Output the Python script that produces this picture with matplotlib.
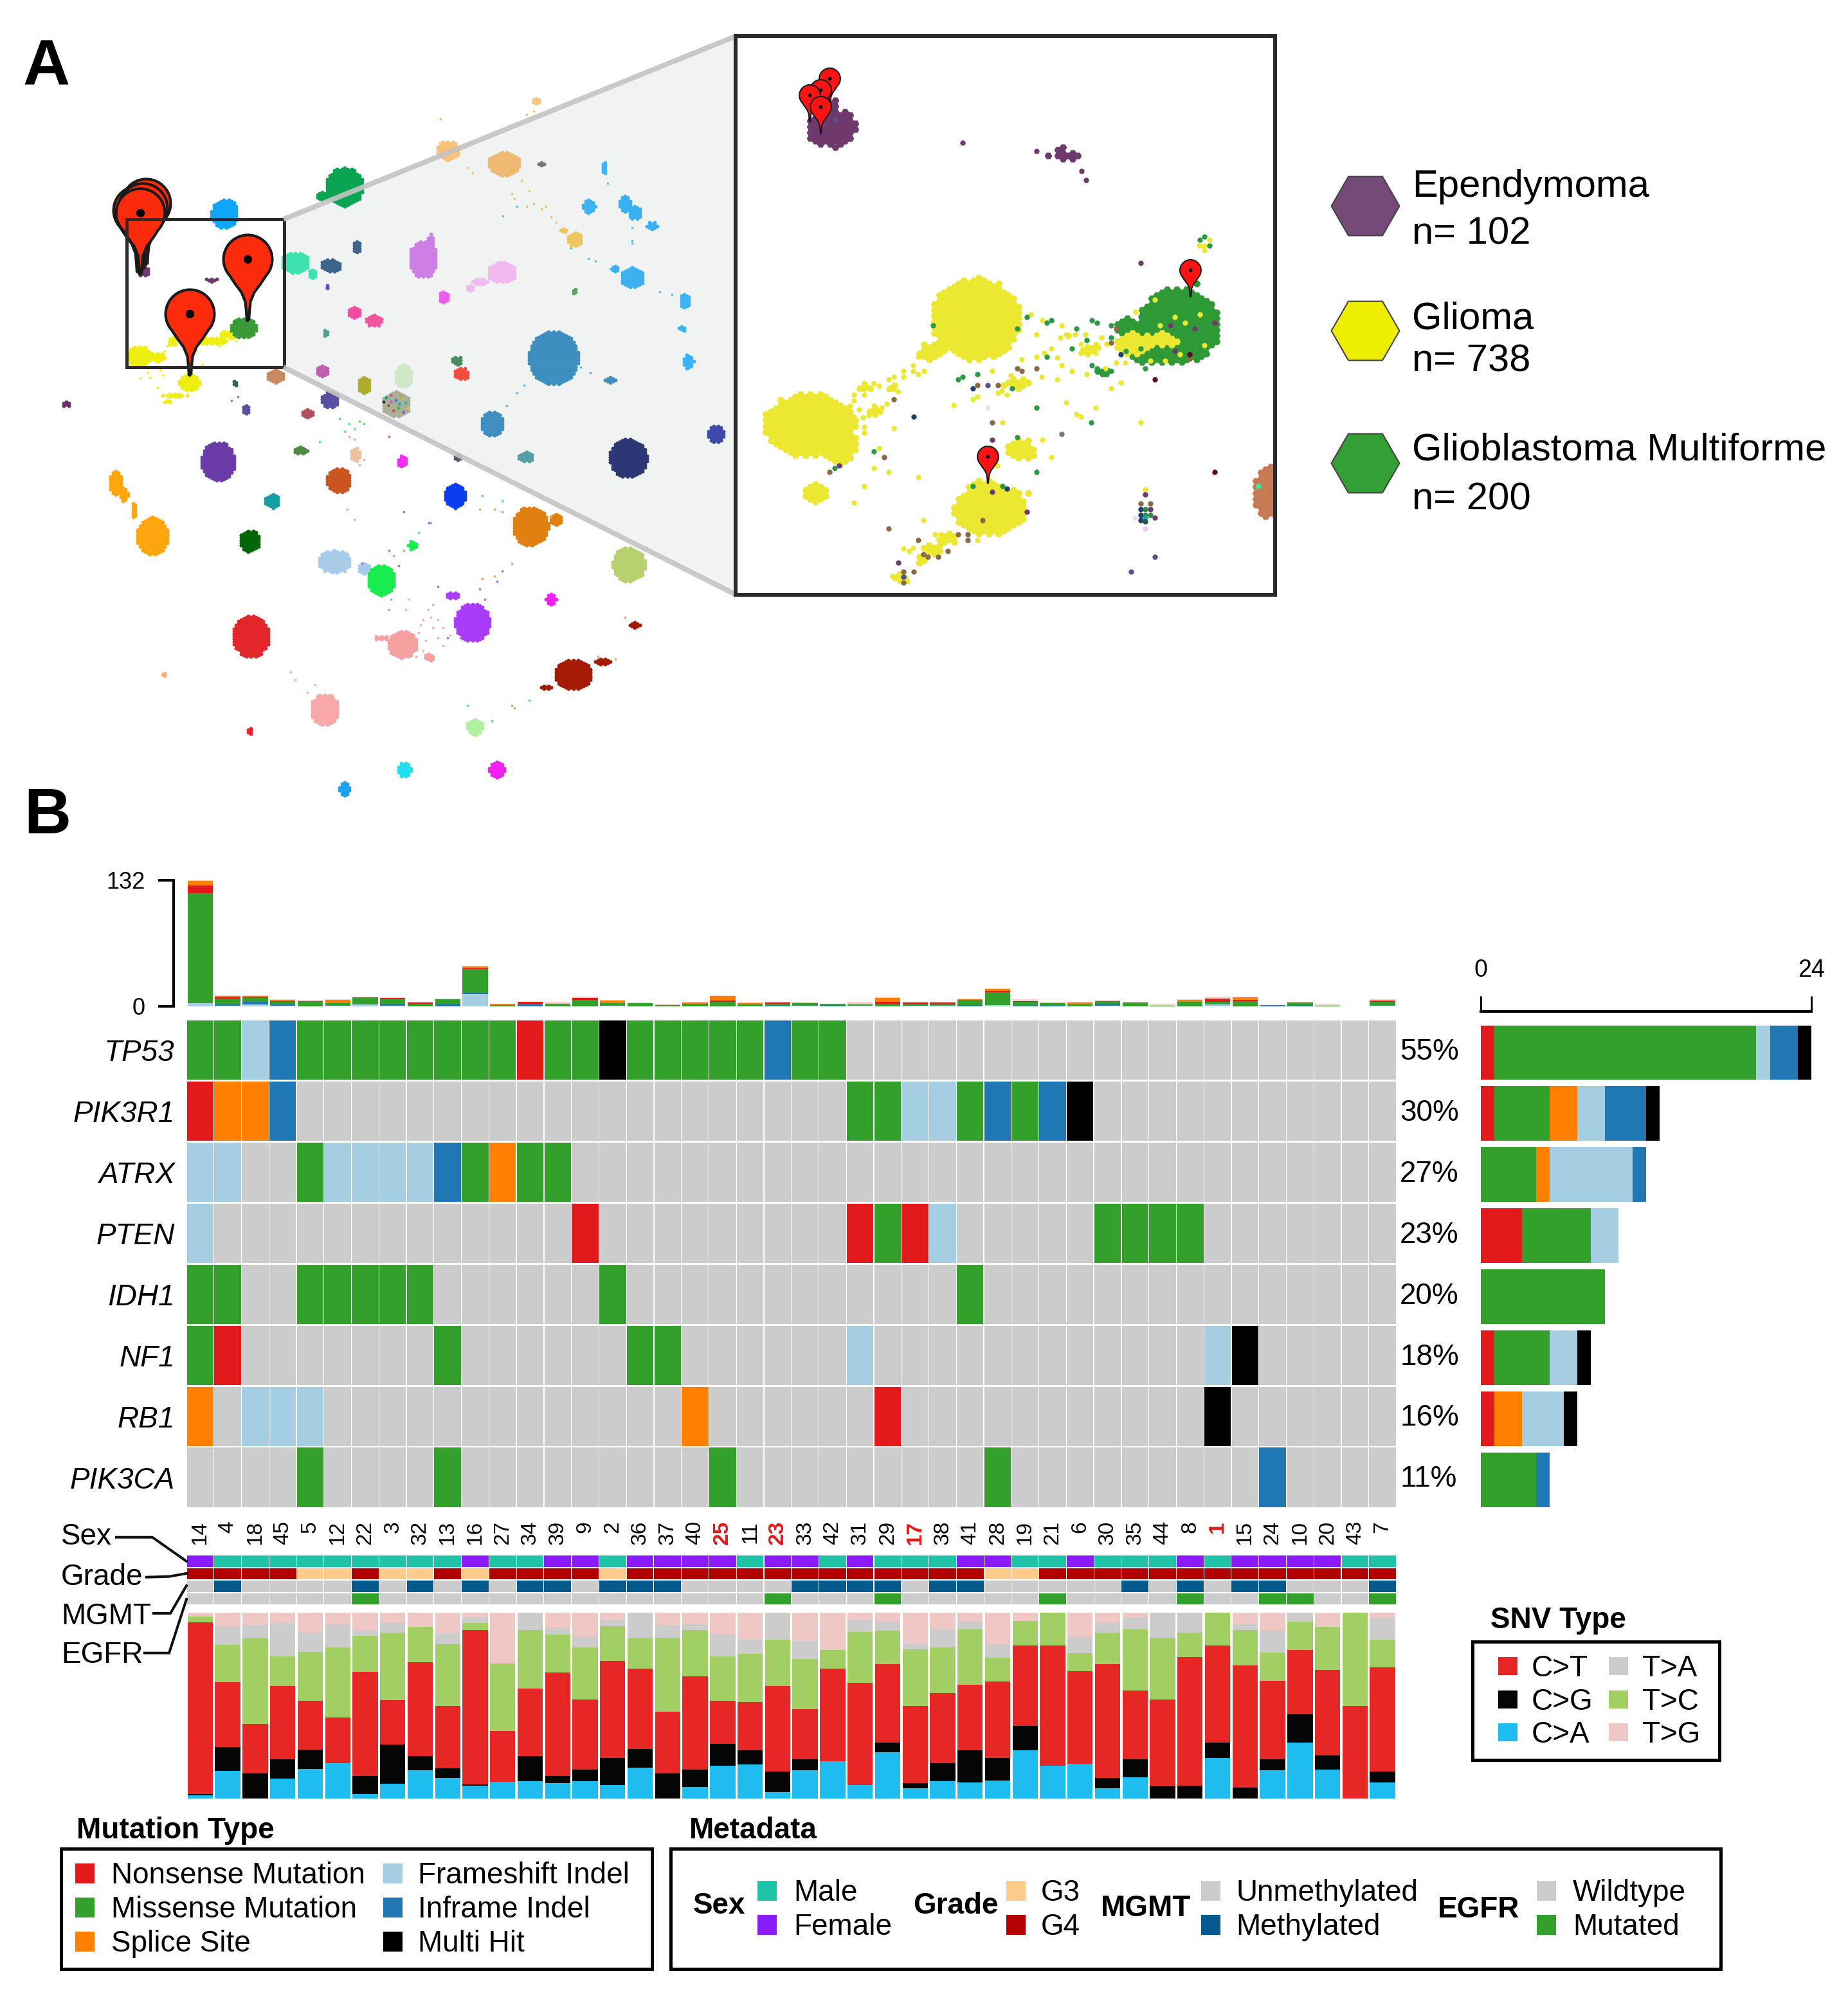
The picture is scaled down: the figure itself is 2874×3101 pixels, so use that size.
import numpy as np
import matplotlib
matplotlib.use('Agg')
import matplotlib.pyplot as plt
from matplotlib.path import Path
from matplotlib.patches import Rectangle, Polygon
from matplotlib.markers import MarkerStyle

plt.rcParams['font.family'] = ['Liberation Sans', 'DejaVu Sans']

W, H, DPI = 2874, 3101, 100
FS = 33

# ---------------- DATA: panel B ----------------
samples = [14,4,18,45,5,12,22,3,32,13,16,27,34,39,9,2,36,37,40,25,11,23,33,42,31,29,17,38,41,28,19,21,6,30,35,44,8,1,15,24,10,20,43,7]
red_samples = [25,23,17,1]
genes = ['TP53','PIK3R1','ATRX','PTEN','IDH1','NF1','RB1','PIK3CA']
pct = ['55%','30%','27%','23%','20%','18%','16%','11%']
TP53   = 'MMFIMMMMMMMMNMMHMMMMMIMM....................'
PIK3R1 = 'NSSI....................MMFFMIMIH...........'
ATRX   = 'FF..MFFFFIMSMM..............................'
PTEN   = 'F.............N.........NMNF.....MMMM.......'
IDH1   = 'MM..MMMMM......M............M...............'
NF1    = 'MN.......M......MM......F............FH.....'
RB1    = 'S.FFF.............S......N...........H......'
PIK3CA = '....M....M.........M.........M.........I....'
onco_rows = [TP53, PIK3R1, ATRX, PTEN, IDH1, NF1, RB1, PIK3CA]

sex   = 'FMMMMMMMMMFMMFFMFFFFMFFMFMMMFFMMFMMMFMFFFFMM'[:44]
grade = '44443343343444434444444444444334444444444444'[:44]
mgmt  = 'UMUUUUMUMUMUMMUMMMUUUUMMMMUMMUUUUUMUMUMMUUUM'[:44]
egfr  = 'WWWWWWMWWWWWWWWWWWWWWMWWWMWWWWWMWWWWMWWMMWWM'[:44]

top_frame = [3.5,.5,2,.5,0,1,2,1,0,0,13,0,0,0,0,1,0,0,0,0,0,0,1,0,1,0,1,.5,0,1.5,0,0,0,.5,0,0,0,2,0,0,0,0,0,1]
top_infr  = [0,1.5,3,1.5,0,0,0,1.5,0,2.5,1,0,2,0,0,0,0,0,0,0,0,1,0,1,0,0,.5,.3,1.5,0,.5,.7,0,2,0,0,0,0,0,1,1.5,0,0,0]
top_miss  = [115,6,4,3,5.5,2.5,7.5,5.5,2.5,5,25,1.5,1,2.5,6.5,2.5,3.5,1.5,2.5,5,2,1.5,2.5,1.5,1,3,1.5,2,5,13,4,3,2,3,4,1,5,3,5.5,.3,2.5,1,0,4]
top_nons  = [8,1.5,.5,.5,0,0,0,1,1.5,0,1,0,1.5,0,2,0,0,0,0,1,0,1.7,0,0,0,2,1.2,1.4,0,1.5,1,0,0,0,0,0,0,3,1.5,0,0,0,0,1]
top_spli  = [5,1.5,1.5,1.5,0,3,0,0,0,0,1.5,1,0,0,.5,2.5,0,0,1.5,4.5,1.5,0,0,0,0,4,0,0,1.2,2,0,0,2.2,0,0,0,1.7,0,2.5,0,0,0,0,0]
top_othr  = [.5,.6,.6,.5,.9,.9,.5,.5,.7,.4,1,.5,.5,2.2,1,.4,.8,1,.7,1.1,1.2,.5,1.2,.5,2.7,1,.5,.5,.3,1,1.8,1,.5,.9,.7,.7,1,2,.5,.3,.7,.7,0,1.7]

side_N = [1,1,0,3,0,1,1,0]
side_M = [19,4,4,5,9,4,0,4]
side_S = [0,2,1,0,0,0,2,0]
side_F = [1,2,6,2,0,2,3,0]
side_I = [2,3,1,0,0,0,0,1]
side_H = [1,1,0,0,0,1,1,0]

snv_ca = [1.6,15,0,10.6,15.8,18.9,2.5,8,15.2,11,6.9,8.9,9.2,8.3,9.5,7.2,16.6,0,6.2,17.5,18.5,3.3,15.2,20.2,7.2,25,5.4,9.5,8.7,9.7,25.8,17.5,18.7,5.4,11.4,0,0,21.9,0,15.2,30,15.5,0,8.7]
snv_cg = [.7,12.6,13.5,10.4,10.6,0,9.5,20.9,7.8,5.4,.8,0,13.5,3.7,6,14.6,10.1,13.5,9.2,11.8,7.4,11.1,5.8,0,0,5.2,2.9,9.5,17.2,12.2,13.3,0,0,5.5,9.6,6.6,6.9,8.3,6,5.8,15.2,7.6,0,5.8]
snv_ct = [92.5,35,26.5,39.4,26.3,24.6,56.3,23.9,50.2,33.4,82.8,27.5,36.3,55.9,37.8,52.2,43.3,33.2,50.2,23.4,26.1,46,27.1,49.8,55.1,42.1,41.5,37.6,35.2,41.2,43.4,64.9,49.9,61.4,37.1,46.7,69.1,52.2,65.7,42.4,34.6,46.1,49.8,56.2]
snv_tc = [3.2,20,46.5,15.9,26.2,37.7,19.4,36.6,19.3,33.4,4,36.3,31.7,20.5,27.9,18.7,16.5,39.8,25.1,23.9,25.8,25.1,26.9,10,27.3,17.9,30.6,24.7,30,12.7,13.1,17.5,9.5,17,32.9,33.2,13.4,17.5,19,15.2,15.3,23.3,50.2,14.8]
snv_ta = [0,10.3,6.9,18.2,10.4,12.5,2.5,5.3,0,5.8,2.8,0,9.2,3.5,6.1,3.5,13.5,6.9,2.9,11.9,7.6,14.4,9.7,0,6.7,5,2.9,9.6,4.4,7.2,0,0,9.2,5.2,6.7,13.5,10.6,0,2.9,12.1,4.8,0,0,11.8]
snv_tg = [2,7.3,6.6,5.4,10.7,6.3,9.8,5.4,7.5,11,2.7,27.3,0,8.1,12.7,3.8,0,6.6,6.3,11.5,14.6,0,15.3,20,3.7,4.8,16.7,9.2,4.6,17.1,4.4,0,12.7,5.5,2.3,0,0,0,6.3,9.2,0,7.5,0,2.9]

# ---------------- DATA: panel A overview map (embedding units) ----------------
map_clusters = [
 (700,362,38,38,'#0aa552'),(655,380,14,10,'#0aa552'),(457,413,28,28,'#0fa5fb'),(910,292,22,20,'#f8c27a'),
 (1090,195,9,9,'#f9c57f'),(1025,317,33,24,'#eeb971'),(1100,318,7,6,'#777777'),(1168,463,17,14,'#eec65f'),(1145,445,8,6,'#eec65f'),
 (1197,400,14,13,'#3eb3f3'),(1270,395,11,18,'#3ab0ef'),(1290,412,15,12,'#3ab0ef'),(1325,437,12,8,'#3ab0ef'),(1285,537,25,20,'#3eb0ef'),(1250,520,8,5,'#3eb0ef'),
 (1392,582,12,14,'#3eb3f3'),(1387,637,8,5,'#3eb3f3'),(1398,700,12,13,'#39b3f3'),(1228,325,5,12,'#3eb3f3'),
 (1168,563,6,6,'#5aa35a'),(1125,693,52,52,'#3e8fbf'),(1000,820,23,24,'#418fc0'),(1240,735,12,5,'#418fc0'),
 (1277,887,39,38,'#2c3776'),(1455,840,17,17,'#3d49ad'),(1068,884,15,10,'#55a0a8'),(860,502,30,36,'#cd7fe5'),(875,470,9,18,'#cd7fe5'),
 (1020,527,30,20,'#f0b9f0'),(975,545,18,6,'#f0b9f0'),(955,557,10,6,'#f0b9f0'),(903,575,11,12,'#ea5de8'),(720,604,12,11,'#ee4da0'),
 (760,621,17,12,'#f0559f'),(662,645,5,6,'#55a090'),(725,477,10,12,'#3f648c'),(672,513,22,13,'#3f648c'),
 (600,508,30,20,'#3de2ae'),(635,530,8,8,'#3de2ae'),(665,555,4,4,'#5555cc'),(938,723,15,12,'#f34c3e'),
 (928,698,10,8,'#4a8a5c'),(820,727,19,22,'#cfe9c8'),(740,745,15,15,'#b0ad2d'),(655,718,12,13,'#c05fb0'),
 (672,773,18,17,'#58509f'),(805,782,30,25,'#a8b098'),(625,800,12,9,'#b05060'),(612,872,15,8,'#4e8a42'),
 (560,727,17,14,'#c98a60'),(478,742,6,6,'#2d6a50'),(500,793,8,8,'#5c4ea0'),(135,782,7,5,'#6a2f6a'),
 (443,893,35,38,'#6b3ca8'),(553,970,15,14,'#159fa5'),(507,1047,21,22,'#046506'),(235,935,12,25,'#ffa510'),
 (252,958,9,14,'#ffa510'),(272,988,6,14,'#ffa510'),(310,1037,33,37,'#ffa510'),(688,930,25,25,'#ca5520'),(722,880,10,15,'#f0c0a0'),
 (818,893,10,12,'#f030f0'),(925,960,23,24,'#0a3cf0'),(930,885,6,5,'#555566'),(1078,1018,38,38,'#e08010'),
 (1130,1005,12,11,'#e08010'),(1278,1092,34,34,'#b8d070'),(680,1087,35,22,'#a8cce8'),(740,1100,15,10,'#a8cce8'),
 (775,1123,28,30,'#18ec4f'),(838,1055,9,9,'#18ec4f'),(960,1205,36,37,'#a93cf8'),(920,1152,15,6,'#a93cf8'),
 (1120,1160,11,11,'#f020f0'),(510,1232,38,40,'#e3262a'),(818,1247,30,26,'#f7a0a0'),(775,1235,12,5,'#f7a0a0'),(873,1272,10,8,'#f7a0a0'),
 (1165,1305,38,30,'#a51a05'),(1225,1280,22,6,'#a51a05'),(1290,1210,15,5,'#a51a05'),(1110,1330,15,3,'#a51a05'),(660,1373,30,30,'#f8a8a8'),
 (508,1415,6,6,'#ee2222'),(332,1305,7,5,'#f8b070'),(965,1407,17,16,'#b0f0a0'),(822,1490,15,15,'#20e0f0'),
 (1010,1490,17,15,'#f020f0'),(700,1527,11,13,'#1f9ff0'),
 (283,690,25,20,'#eeee10'),(320,692,16,10,'#eeee10'),(430,660,35,7,'#eeee10'),(470,648,25,7,'#eeee10'),(350,662,10,7,'#eeee10'),
 (495,635,27,20,'#3a9a38'),(385,740,22,17,'#eeee10'),(355,765,25,4,'#eeee10'),(340,776,9,3,'#eeee10'),(292,525,12,10,'#6e3a6e'),
 (430,542,12,4,'#6e3a6e'),
]
map_pts_yellow = [(300,720),(285,732),(320,700),(335,680),(355,660),(340,670),(400,680),(415,665),(445,670),(510,590),(300,710),(330,725),(320,750),(345,775),(335,778),(410,705),(455,640),(480,660),(305,730),(325,715)]
map_pts_orange = [(1040,375),(1070,400),(1100,405),(1130,430),(1150,450),(1000,312),(950,325),(960,335),(1060,350),(1075,370),(1110,400),(895,230),(1070,222),(1085,215),(1045,385),(1085,395),(1120,420)]
map_pts_blue = [(1022,418),(1050,400),(1160,480),(1195,500),(1210,505),(1240,520),(1285,440),(1285,465),(1235,355),(1340,565),(1365,570),(1285,470),(1050,760),(1030,785),(1065,745),(1180,710),(1200,722)]
map_pts_salmon = [(870,1180),(860,1200),(880,1215),(850,1225),(890,1235),(900,1250),(845,1270),(880,1170),(830,1160),(770,1235),(900,1215),(865,1240),(825,1180),(590,1300),(600,1315),(625,1340),(640,1325),(720,850),(710,845),(730,900),(705,985),(720,1005),(740,890),(855,1210),(875,1195),(890,1200),(915,1230),(860,1260)]
map_pts_green = [(700,835),(720,830),(740,820),(650,855),(690,810),(800,1075),(820,1065),(850,1030),(875,1012),(795,1160),(790,1180),(1040,1365),(1075,1355),(1000,1395),(950,1365),(1020,970),(980,960),(710,820),(730,815)]
map_pts_violet = [(890,1135),(975,1140),(985,1160),(1010,1125),(1020,1105),(935,1235),(910,1235),(810,1095),(735,1090),(790,1065),(872,1012),(820,990),(470,775),(483,768),(790,845)]
map_pts_orange2 = [(975,985),(1005,985),(1020,990),(1040,1090),(1005,1115),(980,1120),(1120,1000),(1250,1275),(1270,1195),(1215,1270),(1045,1370)]
map_mix_x = [785,795,805,815,825,790,800,810,820,780,830,795,812]
map_mix_y = [770,765,775,768,780,785,795,790,798,778,790,778,782]
map_mix_c = ['#20a060','#e05090','#4080d0','#d0a030','#30b0b0','#906040','#e05050','#50b050','#8060c0','#30302f','#e0c060','#c060c0','#40a0a0']
pins_map_x = [297,280,290,285,385,503]
pins_map_y = [512,525,520,530,725,620]

# ---------------- DATA: panel A inset (embedding units) ----------------
inset_purple_blobs = [(285,288,68,52),(290,235,14,25),(925,362,30,14),(905,345,10,10),(875,360,10,6)]
inset_green_blobs = [(1228,810,112,100),(1170,885,75,30),(1090,815,40,25),(1280,700,8,8),(1020,932,30,8)]
inset_yellow_blobs = [(675,795,122,110),(555,880,35,22),(225,1075,125,85),(305,1130,48,52),(715,1300,102,68),(700,1250,50,30),(795,1140,42,30),(240,1255,30,30),
                      (1105,860,55,30),(1185,848,38,18),(790,965,42,16),(985,875,30,12),(920,840,18,8),(820,1255,8,15),(780,1255,12,10),
                      (600,1375,30,14),(560,1405,30,14),(530,1430,18,12),(470,1478,22,12),(400,1040,35,10),(375,975,18,8),(450,975,15,8)]
inset_brown_blob = [(1470,1252,45,72)]
inset_yellow_x = [825,855,907,840,920,905,945,973,1015,960,990,1000,960,1030,1000,880,860,840,800,895,853,907,935,975,1027,1055,1080,1068,1042,895,720,770,745,735,760,505,505,520,535,480,480,453,440,520,373,400,413,373,373,453,465,440,345,345,335,435,420,400,400,385,370,345,360,373,373,453,615,668,680,920,1000,947,960,1122,748,400,440,520,373,345,413,880,855,733,533,580,565,600,590,575,560,545,530,520,480,495,505,465,480,450,490,480,680,1295,1308,1280,1295,1161,1215,1282,1242,1175,1108,1295,1228,1188,1148,1134]
inset_yellow_y = [782,797,812,835,835,843,835,835,843,860,870,885,885,860,860,873,885,895,902,897,948,917,933,940,925,910,910,963,978,955,933,945,985,990,995,917,932,940,933,933,948,948,955,895,965,965,972,980,995,980,987,980,995,1010,1025,1020,1030,1025,1045,1050,1055,1053,1035,1080,1095,1084,1023,1008,1000,1016,1030,1047,1054,1069,1069,1190,1199,1214,1237,1282,1137,1160,1114,1183,1327,1365,1365,1365,1380,1395,1405,1415,1425,1440,1403,1410,1400,1475,1485,1475,1490,1465,1380,600,585,600,612,743,790,782,805,812,775,865,888,905,905,1245]
inset_green_x = [813,787,868,880,947,975,990,1003,1042,1042,935,868,990,1003,1015,1030,1042,627,640,680,773,560,840,988,787,840,400,293,668,748,1134,1082,1283,1295,1308,1122,1122,1122]
inset_green_y = [790,820,805,797,820,850,797,805,812,843,873,895,917,925,933,940,933,955,948,940,978,812,1030,1069,1107,1199,1145,1190,1237,1237,925,880,585,577,600,872,905,790]
inset_purple_x = [640,840,961,974,1122,720,720,813,465,1134,305,1202,1268,1322,1215,1148,1161]
inset_purple_y = [327,350,402,427,646,1114,1252,1305,1440,1260,1183,812,820,805,880,1298,1320]
inset_brown_x = [453,427,787,800,840,680,735,720,280,693,440,520,627,653,653,600,573,533,545,507,480,480,1055,1042,1255,1122,1148]
inset_brown_y = [1008,1160,925,933,925,970,970,1069,1199,1327,1350,1380,1365,1365,1380,1410,1425,1418,1425,1463,1463,1492,820,858,900,1283,1283]
inset_navy_x = [668,507,1068,1122,1122,760,1122]
inset_navy_y = [978,1053,888,1298,1313,1244,1328]
inset_slate_x = [707,1161,1095,480,295]
inset_slate_y = [970,1425,1463,1478,267]
inset_other = [(907,1099,'#7a7a7a'),(1161,955,'#5a0a2a'),(1322,1199,'#5a0a2a'),(1255,888,'#5a0a2a'),(707,1030,'#e8e0f8'),
               (1135,1298,'#2e8a45'),(1135,1313,'#2e8a45'),(1148,1313,'#2e8a45'),(1135,1320,'#20a0a0'),(1135,1330,'#1f5a40'),
               (1107,1320,'#e8e0f8'),(1134,1350,'#f4c8f0'),(1441,1237,'#30f0a0')]
pins_inset_x = [280,255,225,255,708,1256]
pins_inset_y = [228,258,272,302,1228,735]

legend_names = ['Ependymoma','Glioma','Glioblastoma Multiforme']
legend_ns = ['n= 102','n= 738','n= 200']

# ---------------- colours ----------------
MUT = {'M':'#33a02c','N':'#e31a1c','S':'#ff7f00','F':'#a6cee3','I':'#1f78b4','H':'#000000','.':'#cccccc'}
SEXC = {'M':'#1fc4a8','F':'#8a1bff'}
GRC = {'3':'#fdcb8a','4':'#b30000'}
MGC = {'U':'#cccccc','M':'#045a8d'}
EGC = {'W':'#cccccc','M':'#33a02c'}
SNV = {'C>T':'#e62725','C>G':'#050505','C>A':'#1fbcf0','T>A':'#cccccc','T>C':'#a2cf63','T>G':'#efc7c5'}

fig = plt.figure(figsize=(W/DPI, H/DPI), dpi=DPI, facecolor='white')

def pxax(x0, y0, x1, y1, z=2):
    a = fig.add_axes([x0/W, 1-y1/H, (x1-x0)/W, (y1-y0)/H], zorder=z)
    a.patch.set_alpha(0)
    return a

def px(v):  # pixels to points
    return v*72/DPI

# background funnel
bg = pxax(0, 0, W, H, z=0)
bg.set_xlim(0, W); bg.set_ylim(H, 0); bg.axis('off')
FX0, FY0, FY1, FX1, FY2, FY3 = 441, 341, 571, 1145, 56, 925
bg.add_patch(Polygon([(FX0,FY0),(FX1,FY2),(FX1,FY3),(FX0,FY1)], closed=True, fc='#f1f3f3', ec='none'))

# ---------- overview map ----------
mp = pxax(0, 0, 1200, 1260, z=1)
mp.set_xlim(0, 1568); mp.set_ylim(1568, 0); mp.axis('off')

def cells(blobs, sx, sy):
    xs, ys = [], []
    for (cx, cy, rx, ry) in blobs:
        kmin, kmax = int((cx-rx)/sx)-1, int((cx+rx)/sx)+2
        for k in range(kmin, kmax):
            off = sy/2 if k % 2 else 0
            jmin, jmax = int((cy-ry)/sy)-1, int((cy+ry)/sy)+2
            for j in range(jmin, jmax):
                xx, yy = k*sx, j*sy+off
                if ((xx-cx)/rx)**2 + ((yy-cy)/ry)**2 <= 1:
                    xs.append(xx); ys.append(yy)
    return xs, ys

for (cx, cy, rx, ry, col) in map_clusters:
    xs, ys = cells([(cx, cy, rx, ry)], 5.0, 5.0)
    xs.append(cx); ys.append(cy)
    mp.scatter(xs, ys, s=14, marker='H', c=col, edgecolors=col, linewidths=.8, zorder=3)

for pts, col in [(map_pts_yellow,'#eeee10'),(map_pts_orange,'#f2c070'),(map_pts_blue,'#58bdf0'),
                 (map_pts_salmon,'#f6aaa0'),(map_pts_green,'#60e070'),(map_pts_violet,'#b060f0'),(map_pts_orange2,'#f0a060')]:
    arr = np.array(pts)
    mp.scatter(arr[:,0], arr[:,1], s=7, marker='o', c=col, linewidths=0, zorder=3)
mp.scatter(map_mix_x, map_mix_y, s=12, c=map_mix_c, linewidths=0, zorder=4)

def pin_paths():
    r, h = 0.285, 0.715
    th = np.linspace(np.radians(-42), np.radians(222), 50)
    right = [(0.012,0),(0.018,0.10),(0.03,0.22),(0.075,0.33),(0.15,0.43)]
    arc = [(r*np.cos(t), h+r*np.sin(t)) for t in th]
    left = [(-x,y) for x,y in right[::-1]]
    v = right+arc+left+[(0.012,0)]
    head = Path(np.array(v), closed=False)
    a = np.linspace(0, 2*np.pi, 24)
    rd = 0.05
    dv = [(0,1.0),(0,1.0)]+[(rd*np.cos(t), h+rd*np.sin(t)) for t in a]
    codes = [Path.MOVETO, Path.LINETO, Path.MOVETO]+[Path.LINETO]*23
    dot = Path(np.array(dv), codes)
    return head, dot

PIN, DOT = pin_paths()

def draw_pins(a, xs, ys, height_px, lw, z):
    s = (2*px(height_px))**2
    for i, (x, y) in enumerate(zip(xs, ys)):
        a.scatter([x], [y], s=s, marker=MarkerStyle(PIN), c='#fb2b0b' if height_px > 80 else '#f81414',
                  edgecolors='#1a1a1a', linewidths=lw, zorder=z+i*2)
        a.scatter([x], [y], s=s, marker=MarkerStyle(DOT), c='black', linewidths=0, zorder=z+i*2+1)

draw_pins(mp, pins_map_x, pins_map_y, 133, 3, 6)
mp.add_patch(Rectangle((257,424), 320, 287, fc='none', ec='#2b2b2b', lw=px(5), zorder=30))

# ---------- overlay ----------
ov = pxax(0, 0, W, H, z=5)
ov.set_xlim(0, W); ov.set_ylim(H, 0); ov.axis('off')
ov.plot([FX0,FX1],[FY0,FY2], color='#c4c4c4', lw=px(8), alpha=.9, solid_capstyle='butt')
ov.plot([FX0,FX1],[FY1,FY3], color='#c4c4c4', lw=px(8), alpha=.9, solid_capstyle='butt')
ov.text(35, 132, 'A', fontsize=73, fontweight='bold', ha='left', va='baseline')
ov.text(37, 1296, 'B', fontsize=73, fontweight='bold', ha='left', va='baseline')

# cluster legend
for name, n, cy, ty1, ty2, col in zip(legend_names, legend_ns, [320,514,720], [290,496,700], [364,562,777], ['#754a78','#eeee00','#339f35']):
    ov.scatter([2123],[cy], s=px(106)**2, marker='H', c=col, edgecolors='#444444', linewidths=1.5)
    ov.text(2196, ty1, name, fontsize=43, ha='left', va='center')
    ov.text(2196, ty2, n, fontsize=43, ha='left', va='center')

# ---------- inset ----------
ins = pxax(1144, 56, 1982.5, 925, z=6)
ins.patch.set_alpha(1); ins.patch.set_facecolor('white')
ins.set_xlim(25, 1485); ins.set_ylim(1525, 45)
ins.set_xticks([]); ins.set_yticks([])
for s in ins.spines.values():
    s.set_linewidth(px(6)); s.set_color('#2b2b2b')
LX, LY = 13.4, 15.4
HS = 56
for blobs, col, z in [(inset_purple_blobs,'#6e3a6e',2),(inset_brown_blob,'#c87a55',2),(inset_green_blobs,'#2e9a35',2),(inset_yellow_blobs,'#ece832',3)]:
    xs, ys = cells(blobs, LX, LY)
    ins.scatter(xs, ys, s=HS, marker='H', c=col, edgecolors=col, linewidths=.8, zorder=z)
PT = 36
ins.scatter(inset_yellow_x, inset_yellow_y, s=PT, c='#ece832', linewidths=0, zorder=4)
ins.scatter(inset_green_x, inset_green_y, s=PT, c='#2a9a45', linewidths=0, zorder=5)
ins.scatter(inset_purple_x, inset_purple_y, s=PT, c='#6e3a6e', linewidths=0, zorder=5)
ins.scatter(inset_brown_x, inset_brown_y, s=PT, c='#8a6a45', linewidths=0, zorder=5)
ins.scatter(inset_navy_x, inset_navy_y, s=PT, c='#1f3f6a', linewidths=0, zorder=5)
ins.scatter(inset_slate_x, inset_slate_y, s=PT, c='#5a5090', linewidths=0, zorder=5)
for x, y, c in inset_other:
    ins.scatter([x],[y], s=PT, c=c, linewidths=0, zorder=6)
draw_pins(ins, pins_inset_x, pins_inset_y, 57.5, 1.5, 10)

# ---------- top stacked bars ----------
XL, XR = 290, 2171.5
n = len(samples)
xpos = np.arange(n)+.5
tb = pxax(XL, 1369, XR, 1565, z=3)
tb.set_xlim(0, n); tb.set_ylim(0, 132)
bot = np.zeros(n)
for arr, col in [(top_frame,MUT['F']),(top_infr,MUT['I']),(top_miss,MUT['M']),(top_nons,MUT['N']),(top_spli,MUT['S']),(top_othr,'#f8cfc8')]:
    a = np.array(arr, float)
    tb.bar(xpos, a, bottom=bot, width=.92, color=col, linewidth=0)
    bot += a
for s in ['top','right','bottom']:
    tb.spines[s].set_visible(False)
tb.spines['left'].set_position(('outward', px(20)))
tb.spines['left'].set_linewidth(px(4)); tb.spines['left'].set_bounds(0, 132)
tb.set_xticks([]); tb.set_yticks([0, 132]); tb.set_yticklabels(['0','132'])
tb.tick_params(axis='y', length=px(24), width=px(4), labelsize=26, pad=px(20))

# ---------- oncoplot ----------
RT, RB = 1585.5, 2345
on = pxax(XL, RT, XR, RB, z=3)
on.set_xlim(0, n); on.set_ylim(8, 0)
for i, row in enumerate(onco_rows):
    on.bar(xpos, [.97]*n, bottom=i+.015, width=.97, color=[MUT[c] for c in row], linewidth=0)
for s in on.spines.values():
    s.set_visible(False)
on.set_xticks(xpos); on.set_xticklabels([str(s) for s in samples], rotation=90, fontsize=24)
on.set_yticks(np.arange(8)+.5); on.set_yticklabels(genes, fontsize=FS, style='italic')
on.tick_params(axis='both', length=0)
on.tick_params(axis='x', pad=px(20))
on.tick_params(axis='y', pad=px(18))
for lab, s in zip(on.get_xticklabels(), samples):
    if s in red_samples:
        lab.set_color('#e31a1c'); lab.set_fontweight('bold')
for i, p in enumerate(pct):
    on.text(n+.13, i+.53, p, fontsize=FS, ha='left', va='center')

# ---------- side bars ----------
sd = pxax(2303, RT, 2817, RB, z=3)
sd.set_xlim(0, 24); sd.set_ylim(8, 0)
left = np.zeros(8)
ypos = np.arange(8)+.54
for arr, col in [(side_N,MUT['N']),(side_M,MUT['M']),(side_S,MUT['S']),(side_F,MUT['F']),(side_I,MUT['I']),(side_H,MUT['H'])]:
    a = np.array(arr, float)
    sd.barh(ypos, a, left=left, height=.89, color=col, linewidth=0)
    left += a
for s in ['left','right','bottom']:
    sd.spines[s].set_visible(False)
sd.spines['top'].set_position(('outward', px(12.5)))
sd.spines['top'].set_linewidth(px(4))
sd.xaxis.tick_top(); sd.set_xticks([0, 24]); sd.set_xticklabels(['0','24']); sd.set_yticks([])
sd.tick_params(axis='x', length=px(24), width=px(3), labelsize=27, pad=px(22))

# ---------- metadata tracks ----------
tr = pxax(XL, 2419, XR, 2497, z=3)
tr.set_xlim(0, n); tr.set_ylim(4, 0); tr.axis('off')
for i, (seq, cmap) in enumerate([(sex,SEXC),(grade,GRC),(mgmt,MGC),(egfr,EGC)]):
    tr.bar(xpos, [.92]*n, bottom=i, width=.975, color=[cmap[c] for c in seq], linewidth=0)

# ---------- SNV 100% bars ----------
sv = pxax(XL, 2508, XR, 2797, z=3)
sv.set_xlim(0, n); sv.set_ylim(0, 100); sv.axis('off')
bot = np.zeros(n)
for arr, key in [(snv_ca,'C>A'),(snv_cg,'C>G'),(snv_ct,'C>T'),(snv_tc,'T>C'),(snv_ta,'T>A'),(snv_tg,'T>G')]:
    a = np.array(arr, float)
    sv.bar(xpos, a, bottom=bot, width=.92, color=SNV[key], linewidth=0)
    bot += a

# ---------- track labels ----------
for txt, y in [('Sex',2390),('Grade',2453),('MGMT',2514),('EGFR',2574)]:
    ov.text(95, y, txt, fontsize=FS, ha='left', va='center')
for xs, ys in [([181,237,290],[2390.7,2390.7,2428]),([228,263,290],[2452.7,2451.7,2447]),
               ([239,265,290],[2509,2509,2466]),([225,263,290],[2570.7,2570.7,2487])]:
    ov.plot(xs, ys, color='#111111', lw=px(4), solid_joinstyle='miter')

# ---------- legends ----------
def box(x0, y0, x1, y1):
    ov.add_patch(Rectangle((x0,y0), x1-x0, y1-y0, fc='white', ec='black', lw=px(5), zorder=1))

def swatch(x, y, col, w=30, h=31):
    ov.add_patch(Rectangle((x, y-h/2), w, h, fc=col, ec='none', zorder=2))

def legend_item(sx, tx, y, col, label, h=31):
    swatch(sx, y, col, h=h)
    ov.text(tx, y+4, label, fontsize=FS, ha='left', va='center', zorder=3)

# mutation legend
ov.text(119, 2847, 'Mutation Type', fontsize=FS, fontweight='bold', ha='left', va='center')
box(95, 2875, 1014, 3062)
for y, lab, c in zip([2913,2966,3019], ['Nonsense Mutation','Missense Mutation','Splice Site'], ['N','M','S']):
    legend_item(117, 173, y, MUT[c], lab)
for y, lab, c in zip([2913,2966,3019], ['Frameshift Indel','Inframe Indel','Multi Hit'], ['F','I','H']):
    legend_item(596, 650, y, MUT[c], lab)

# metadata legend
ov.text(1072, 2847, 'Metadata', fontsize=FS, fontweight='bold', ha='left', va='center')
box(1043, 2875, 2676, 3062)
for x, y, t in [(1078,2964,'Sex'),(1420,2964,'Grade'),(1712,2968,'MGMT'),(2236,2970,'EGFR')]:
    ov.text(x, y, t, fontsize=FS, fontweight='bold', ha='left', va='center')
for sx, tx, cols, labs in [(1178,1234,[SEXC['M'],SEXC['F']],['Male','Female']),
                           (1565,1619,[GRC['3'],GRC['4']],['G3','G4']),
                           (1868,1922,[MGC['U'],MGC['M']],['Unmethylated','Methylated']),
                           (2390,2446,[EGC['W'],EGC['M']],['Wildtype','Mutated'])]:
    for y, c, l in zip([2940,2993], cols, labs):
        legend_item(sx, tx, y, c, l)

# SNV legend
ov.text(2318, 2520, 'SNV Type', fontsize=FS, fontweight='bold', ha='left', va='center')
box(2290, 2553, 2674, 2737)
for y, k in zip([2591,2643,2694], ['C>T','C>G','C>A']):
    legend_item(2330, 2382, y, SNV[k], k, h=28)
for y, k in zip([2591,2643,2694], ['T>A','T>C','T>G']):
    legend_item(2502, 2554, y, SNV[k], k, h=28)

fig.savefig('out.png', dpi=DPI, facecolor='white')
